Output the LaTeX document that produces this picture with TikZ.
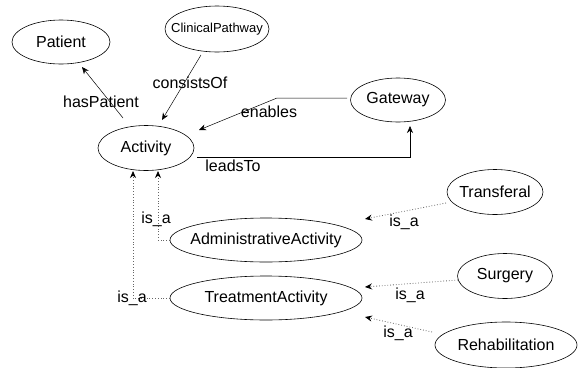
\documentclass[tikz,border=0pt]{standalone}
\usepackage{fontspec}
\setmainfont{Liberation Sans}
\usetikzlibrary{shapes.geometric,arrows.meta}
\newcommand{\zb}[1]{\makebox[0pt]{#1}}
\begin{document}
\begin{tikzpicture}[x=1pt,y=-1pt,
  ell/.style={draw,ellipse,inner sep=0pt,line width=0.6pt,font=\fontsize{16}{18}\selectfont},
  arr/.style={draw,line width=0.5pt,-{Stealth[length=7pt,width=6pt]}},
  isa/.style={draw,gray!80!black,dotted,line width=0.8pt,-{Stealth[length=7pt,width=6pt,black]}},
  lbl/.style={font=\fontsize{16}{18}\selectfont,inner sep=0pt}]
\useasboundingbox (0,0) rectangle (578,367);
% nodes
\node[ell,minimum width=98pt,minimum height=44pt] (patient) at (61,42) {\zb{Patient}};
\node[ell,minimum width=104pt,minimum height=46pt,font=\fontsize{13}{15}\selectfont] (clinical) at (217,29) {\zb{ClinicalPathway}};
\node[ell,minimum width=95pt,minimum height=44pt] (gateway) at (398,100) {\zb{Gateway}};
\node[ell,minimum width=96pt,minimum height=45pt] (activity) at (146,148) {\zb{Activity}};
\node[ell,minimum width=96pt,minimum height=45pt] (transferal) at (495,192) {\zb{Transferal}};
\node[ell,minimum width=192pt,minimum height=44pt] (admin) at (266,240) {\zb{AdministrativeActivity}};
\node[ell,minimum width=95pt,minimum height=45pt] (surgery) at (505,276) {\zb{Surgery}};
\node[ell,minimum width=192pt,minimum height=44pt] (treatment) at (266,298) {\zb{TreatmentActivity}};
\node[ell,minimum width=142pt,minimum height=46pt] (rehab) at (506,345) {\zb{Rehabilitation}};
% coordinates
\coordinate (hpS) at (123,118);
\coordinate (hpE) at (82,67);
\coordinate (coS) at (201,55);
\coordinate (coE) at (162,120);
\coordinate (enS) at (347,98);
\coordinate (enM) at (277,98);
\coordinate (enE) at (199,130);
\coordinate (ltS) at (197,157);
\coordinate (ltE) at (410,126);
\coordinate (aiE) at (158,171);
\coordinate (tiE) at (133,171);
\coordinate (trS) at (446,203);
\coordinate (trE) at (365,219);
\coordinate (suS) at (458,280);
\coordinate (suE) at (365,287);
\coordinate (reS) at (432,332);
\coordinate (reE) at (365,317);
% edges
\draw[arr] (hpS) -- (hpE);
\draw[arr] (coS) -- (coE);
\draw[arr] (enS) -- (enM) -- (enE);
\draw[arr] (ltS) -| (ltE);
\draw[isa] (admin.west) -| (aiE);
\draw[isa] (treatment.west) -| (tiE);
\draw[isa] (trS) -- (trE);
\draw[isa] (suS) -- (suE);
\draw[isa] (reS) -- (reE);
% labels
\node[lbl] (l1) at (101,102) {hasPatient};
\node[lbl] (l2) at (190,83) {consistsOf};
\node[lbl] (l3) at (269,112) {enables};
\node[lbl] (l4) at (233,166) {leadsTo};
\node[lbl] (l5) at (156,219) {is\_a};
\node[lbl] (l6) at (132,298) {is\_a};
\node[lbl] (l7) at (404,222) {is\_a};
\node[lbl] (l8) at (410,295) {is\_a};
\node[lbl] (l9) at (398,333) {is\_a};
\end{tikzpicture}
\end{document}
